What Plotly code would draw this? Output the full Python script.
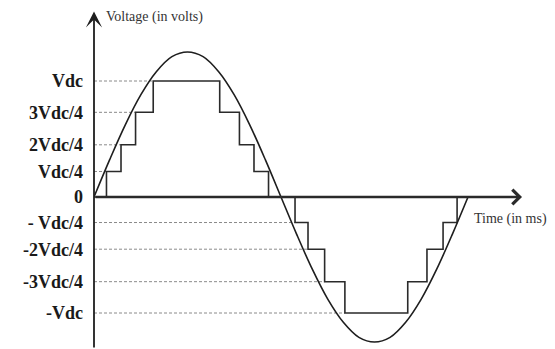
import plotly.graph_objects as go

# ---- data (angles in degrees, voltages in units of Vdc) ----
sine_angles = list(range(0, 361, 15))
sine_values = [0, 0.32, 0.62, 0.88, 1.08, 1.21, 1.25, 1.21, 1.08, 0.88, 0.62, 0.32, 0,
               -0.32, -0.62, -0.88, -1.08, -1.21, -1.25, -1.21, -1.08, -0.88, -0.62, -0.32, 0]

switch_angles = [12, 26, 40, 57, 121, 140, 154, 168,
                 193.5, 206, 222, 241.5, 302, 320.5, 336, 349.5]
step_levels = [0.22, 0.45, 0.73, 1.0, 0.73, 0.45, 0.22, 0,
               -0.22, -0.45, -0.73, -1.0, -0.73, -0.45, -0.22, 0]

tick_levels = [1.0, 0.73, 0.45, 0.22, 0, -0.22, -0.45, -0.73, -1.0]
tick_labels = ["Vdc", "3Vdc/4", "2Vdc/4", "Vdc/4", "0",
               "- Vdc/4", "-2Vdc/4", "-3Vdc/4", "-Vdc"]

period_end = 360
x_axis_end = 412
y_axis_top = 1.60

# ---- geometry (the page body adds an 8px offset) ----
W, H = 547, 341
left = 86
px_per_deg = 374 / 360
px_per_unit = 116
zero_px = 189
x_range = [0, (W - left) / px_per_deg]
y_range = [-(H - zero_px) / px_per_unit, zero_px / px_per_unit]

fig = go.Figure()

# dotted reference lines from the axis to the step where each level first appears
for lv in tick_levels:
    if lv == 0:
        continue
    xe = next(a for a, s in zip(switch_angles, step_levels) if abs(s - lv) < 1e-9)
    fig.add_trace(go.Scatter(x=[0, xe], y=[lv, lv], mode="lines",
                             line=dict(color="#8a8a8a", width=1, dash="3px,2px"),
                             hoverinfo="skip", showlegend=False))

# staircase
fig.add_trace(go.Scatter(x=[0] + switch_angles + [period_end],
                         y=[0] + step_levels + [0],
                         mode="lines", line=dict(color="#2a2a2a", width=1.6, shape="hv"),
                         showlegend=False))

# sine
fig.add_trace(go.Scatter(x=sine_angles, y=sine_values, mode="lines",
                         line=dict(color="#1e1e1e", width=1.6, shape="spline", smoothing=1.0),
                         showlegend=False))

# axes arrows
fig.add_annotation(x=x_axis_end, y=0, ax=0, ay=0, xref="x", yref="y", axref="x", ayref="y",
                   text="", showarrow=True, arrowhead=4, arrowsize=1.1, arrowwidth=2.6,
                   arrowcolor="#2a2a2a")
fig.add_annotation(x=0, y=y_axis_top, ax=0, ay=y_range[0], xref="x", yref="y", axref="x",
                   ayref="y", text="", showarrow=True, arrowhead=3, arrowsize=1.5,
                   arrowwidth=1.8, arrowcolor="#1e1e1e")

fig.add_annotation(x=10, y=1.55, xref="x", yref="y", text="Voltage (in volts)",
                   showarrow=False, xanchor="left", yanchor="middle",
                   font=dict(family="Liberation Serif", size=14, color="#333"))
fig.add_annotation(x=364, y=-0.19, xref="x", yref="y", text="Time (in ms)",
                   showarrow=False, xanchor="left", yanchor="middle",
                   font=dict(family="Liberation Serif", size=14, color="#333"))

fig.update_layout(
    width=W, height=H,
    margin=dict(l=left, r=0, t=0, b=0),
    paper_bgcolor="white", plot_bgcolor="white",
    xaxis=dict(range=x_range, visible=False, fixedrange=True),
    yaxis=dict(range=y_range, showgrid=False, zeroline=False, showline=False,
               tickvals=tick_levels, ticktext=tick_labels, ticks="",
               ticklabelstandoff=10,
               tickfont=dict(family="Liberation Serif", size=18, color="#1a1a1a",
                             weight="bold"),
               fixedrange=True),
    font=dict(family="Liberation Serif"),
)

fig.write_html("out.html")
